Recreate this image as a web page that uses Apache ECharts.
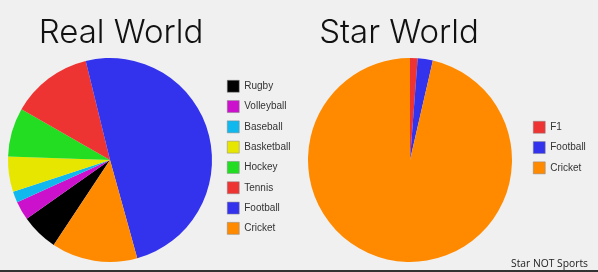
<!DOCTYPE html>
<html>
<head>
<meta charset="utf-8">
<script src="https://cdn.jsdelivr.net/npm/echarts@6/dist/echarts.min.js"></script>
<style>html,body{margin:0;padding:0;background:#f0f0f0;}#c{width:598px;height:272px;}</style>
</head>
<body>
<div id="c"></div>
<script>
const realCategories = ['Rugby', 'Volleyball', 'Baseball', 'Basketball', 'Hockey', 'Tennis', 'Football', 'Cricket'];
const realValues = [5.9, 3.0, 1.75, 5.6, 7.7, 12.9, 49.5, 13.6];
const realColors = ['#000000', '#cc11cc', '#11b8ee', '#e6e600', '#22dd22', '#ee3333', '#3333ee', '#ff8a00'];
const starCategories = ['F1', 'Football', 'Cricket'];
const starValues = [1.2, 2.4, 96.4];
const starColors = ['#ee3333', '#3333ee', '#ff8a00'];

const chart = echarts.init(document.getElementById('c'));
const legendText = { fontFamily: 'Liberation Sans, Arial, sans-serif', fontSize: 10, color: '#333' };
const titleText = { fontFamily: 'Inter', fontWeight: 300, fontSize: 33, color: '#111' };
chart.setOption({
  backgroundColor: '#f0f0f0',
  animation: false,
  title: [
    { text: 'Real World', left: 116, top: 12, textAlign: 'center', textStyle: titleText },
    { text: 'Star World', left: 394, top: 12, textAlign: 'center', textStyle: titleText },
    { text: 'Star NOT Sports', right: 5, top: 254,
      textStyle: { fontFamily: 'Open Sans', fontWeight: 'normal', fontSize: 10.3, color: '#222' } }
  ],
  legend: [
    { data: realCategories, orient: 'vertical', left: 227, top: 80, itemWidth: 12, itemHeight: 12,
      itemGap: 7.8, icon: 'rect', textStyle: legendText, padding: 0,
      itemStyle: { borderColor: '#888', borderWidth: 0.5 } },
    { data: starCategories, orient: 'vertical', left: 533, top: 121, itemWidth: 12, itemHeight: 12,
      itemGap: 7.8, icon: 'rect', textStyle: legendText, padding: 0,
      itemStyle: { borderColor: '#888', borderWidth: 0.5 } }
  ],
  series: [
    { type: 'pie', center: [110, 160], radius: [0, 102], startAngle: -123.5, clockwise: true,
      label: { show: false }, labelLine: { show: false }, silent: true,
      itemStyle: { borderWidth: 0 },
      data: realCategories.map((n, i) => ({ name: n, value: realValues[i], itemStyle: { color: realColors[i] } })) },
    { type: 'pie', center: [410, 160], radius: [0, 102], startAngle: 90, clockwise: true,
      label: { show: false }, labelLine: { show: false }, silent: true,
      itemStyle: { borderWidth: 0 },
      data: starCategories.map((n, i) => ({ name: n, value: starValues[i], itemStyle: { color: starColors[i] } })) }
  ],
  graphic: [
    { type: 'rect', shape: { x: 0, y: 270, width: 598, height: 2 }, style: { fill: '#333' } }
  ]
});
</script>
</body>
</html>
